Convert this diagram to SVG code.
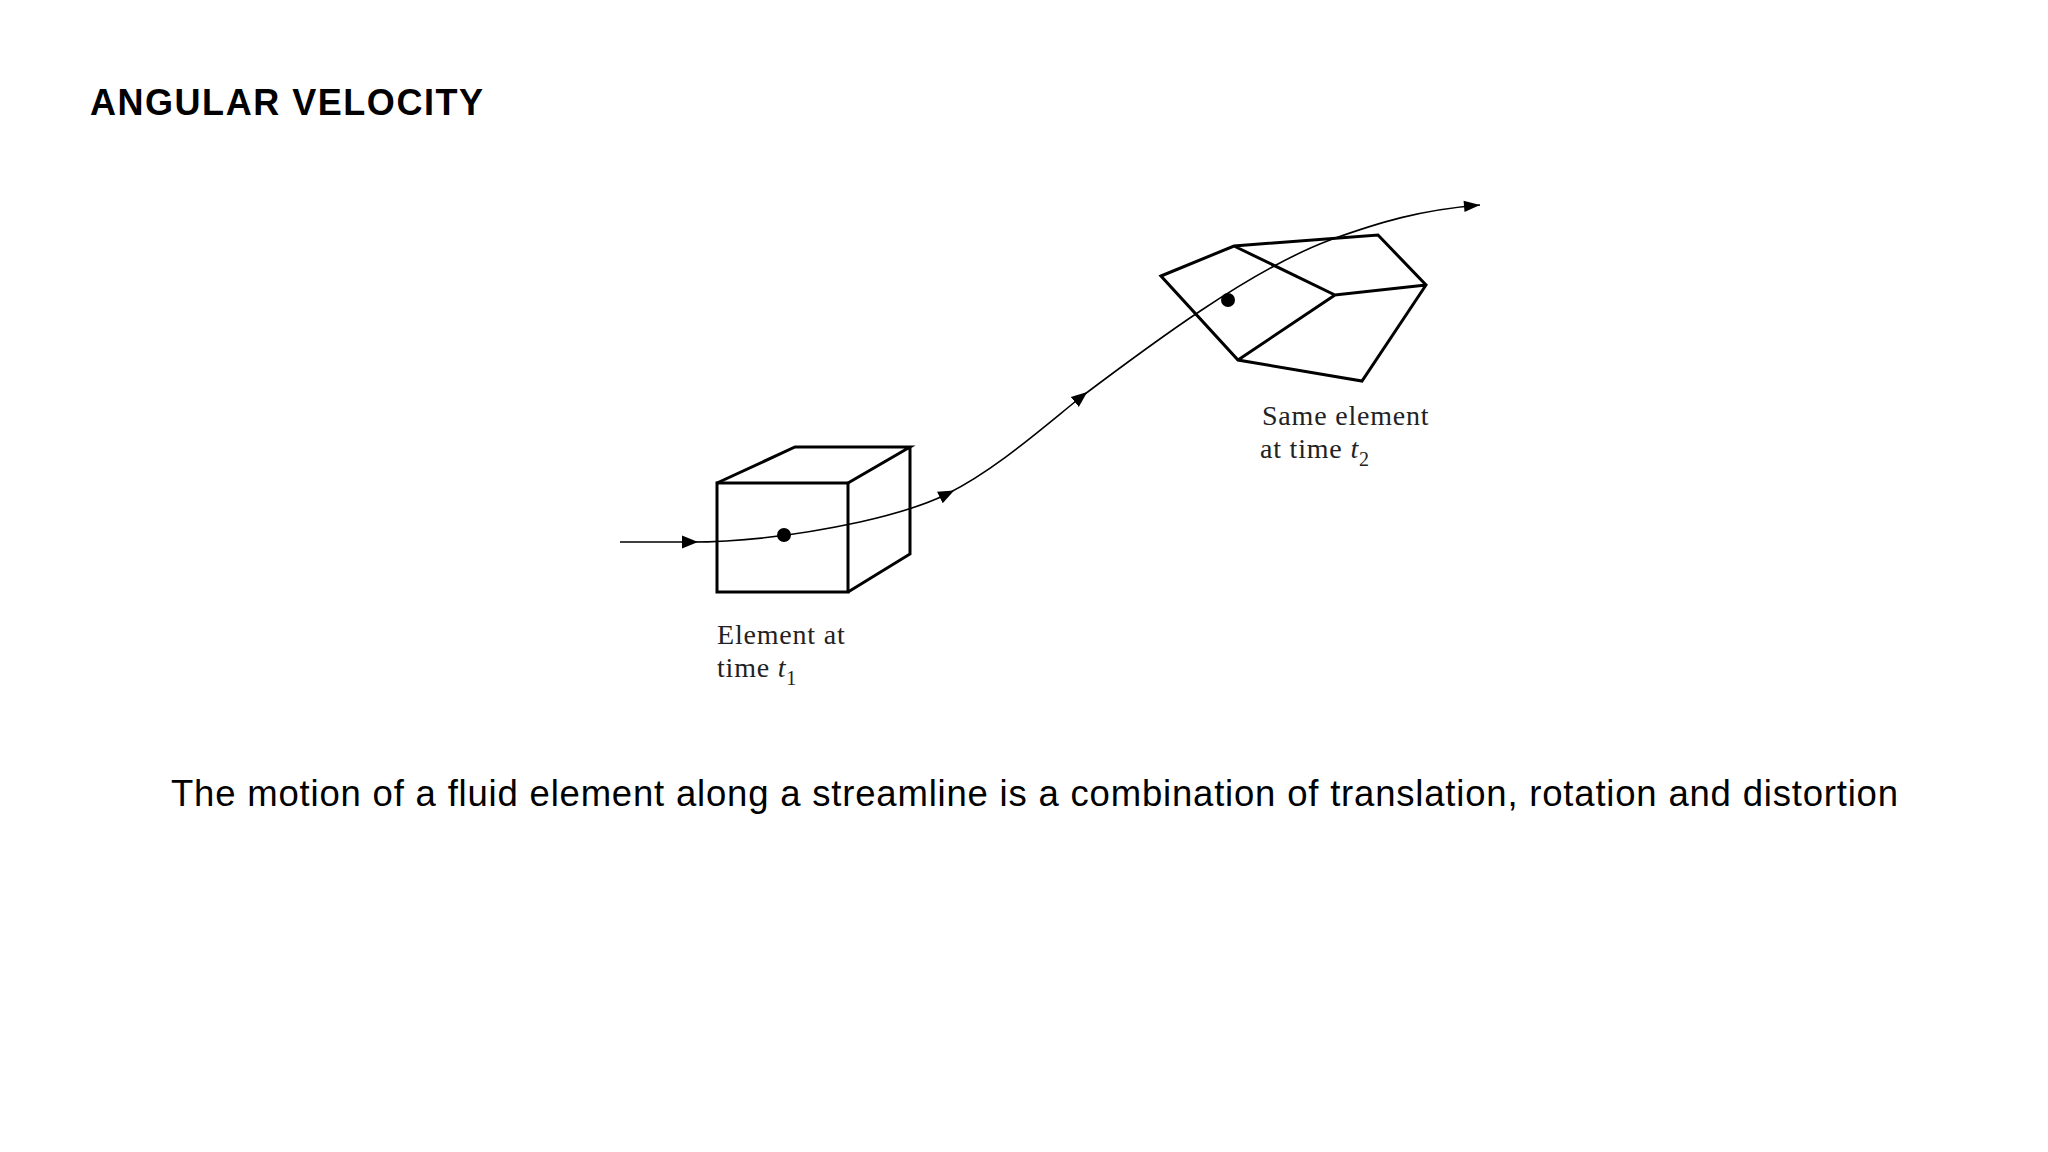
<svg xmlns="http://www.w3.org/2000/svg" width="2048" height="1152" viewBox="0 0 2048 1152">
<style>
.sh{fill:none;stroke:#000;stroke-width:3;stroke-linejoin:miter}
.sl{fill:none;stroke:#000;stroke-width:1.6}
.lab{font-family:"Liberation Serif",serif;font-size:28px;letter-spacing:0.8px;fill:#222}
</style>
<defs><marker id="ar" viewBox="0 0 10 10" refX="5" refY="5" markerWidth="16" markerHeight="16" markerUnits="userSpaceOnUse" orient="auto"><path d="M0,1 L10,5 L0,9 z" fill="#000"/></marker>
<marker id="ae" viewBox="0 0 10 10" refX="10" refY="5" markerWidth="20" markerHeight="16" markerUnits="userSpaceOnUse" orient="auto"><path d="M0,1.5 L10,5 L0,8.5 z" fill="#000"/></marker></defs>
<rect width="2048" height="1152" fill="#fff"/>
<text x="90" y="115" font-family="Liberation Sans,Arial,sans-serif" font-weight="bold" font-size="36" textLength="393">ANGULAR VELOCITY</text>
<g id="cube">
<rect class="sh" x="717" y="483" width="131" height="109"/>
<path class="sh" d="M717,483 L795,447 L910,447 L848,483 M910,447 L910,554 L848,592"/>
<circle cx="784" cy="535" r="7"/>
</g>
<g id="element2">
<path class="sh" d="M1161,276 L1234,246 L1378,235 L1426,285 L1362,381 L1238,360 Z M1234,246 L1335,295 L1426,285 M1335,295 L1238,360"/>
<circle cx="1228" cy="300" r="7"/>
</g>
<g id="connectors">
<path class="sl" d="M620,542 L690,542" marker-end="url(#ar)"/>
<path class="sl" d="M690,542 C740,542 800,535 860,522 C900,513 925,505 947,494" marker-end="url(#ar)"/>
<path class="sl" d="M947,494 C995,470 1040,430 1081,397" marker-end="url(#ar)"/>
<path class="sl" d="M1081,397 C1150,345 1250,270 1330,240 C1380,222 1420,210 1480,205" marker-end="url(#ae)"/>
</g>
<g id="labels">
<text class="lab" x="1262" y="425">Same element</text>
<text class="lab" x="1260" y="458">at time <tspan font-style="italic">t</tspan><tspan font-size="20" dy="8">2</tspan></text>
<text class="lab" x="717" y="644">Element at</text>
<text class="lab" x="717" y="677">time <tspan font-style="italic">t</tspan><tspan font-size="20" dy="8">1</tspan></text>
</g>
<text x="171" y="806" font-family="Liberation Sans,Arial,sans-serif" font-size="36.5" textLength="1727">The motion of a fluid element along a streamline is a combination of translation, rotation and distortion</text>
</svg>
